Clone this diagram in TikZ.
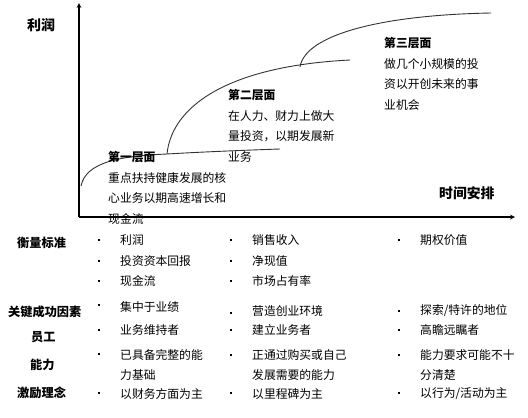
\documentclass[tikz,border=0pt]{standalone}
\usepackage{fontspec}
\setmainfont{Noto Sans CJK SC}
\begin{document}
\begin{tikzpicture}[x=1pt, y=-1pt, >=stealth,
    txt/.style={anchor=west, inner sep=0pt, font=\fontsize{11.8}{14}\selectfont},
    blk/.style={anchor=north west, inner sep=0pt, align=left, font=\fontsize{11.8}{20.4}\selectfont},
    hd/.style={anchor=west, inner sep=0pt, font=\fontsize{12.2}{14}\selectfont\bfseries},
    curve/.style={line width=0.9pt, black!80}]
\useasboundingbox (0,0) rectangle (528,418);
% axes
\coordinate (O) at (79,217);
\coordinate (ytop) at (79,3);
\coordinate (xend) at (515,217);
\draw[->, line width=1.2pt] (O) -- (ytop);
\draw[->, line width=1.2pt] (O) -- (xend);
\node[hd, font=\fontsize{14}{16}\selectfont\bfseries] (profit) at (27,25) {利润};
\node[hd, font=\fontsize{13.8}{16}\selectfont\bfseries] (time) at (439,193) {时间安排};
% curves
\coordinate (s1) at (81,186);
\coordinate (s2) at (167,154);
\coordinate (e1) at (280,149);
\coordinate (s3) at (300,67);
\coordinate (e2) at (350,60);
\coordinate (e3) at (491,13);
\draw[curve] (s1) .. controls (86,162) and (120,156) .. (s2) .. controls (200,152) and (250,150) .. (e1);
\draw[curve] (s2) .. controls (172,105) and (230,66) .. (e2);
\draw[curve] (s3) .. controls (305,35) and (380,15) .. (e3);
\node[blk] (lvl1) at (108,151.5) {\textbf{第一层面}\\重点扶持健康发展的核\\心业务以期高速增长和\\现金流};
\node[blk] (lvl2) at (228,89.5) {\textbf{第二层面}\\在人力、财力上做大\\量投资，以期发展新\\业务};
\node[blk] (lvl3) at (384,37.5) {\textbf{第三层面}\\做几个小规模的投\\资以开创未来的事\\业机会};
% table
\node[hd] (measure) at (17,243) {衡量标准};
\node[hd] (key) at (8,312) {关键成功因素};
\node[hd] (staff) at (31,337) {员工};
\node[hd] (ability) at (30,365) {能力};
\node[hd] (reward) at (17,393) {激励理念};
\foreach \x/\y in {99/240, 99/261, 99/281, 99/305, 99/330, 99/354, 99/393,
    231/240, 231/261, 231/281, 231/313, 231/330, 231/355, 231/393,
    399/240, 399/311, 399/330, 399/355, 399/393}
  \fill (\x-1.2,\y-1.2) rectangle (\x+1.2,\y+1.2);
\node[txt] (a1) at (120,240) {利润};
\node[txt] (a2) at (120,261) {投资资本回报};
\node[txt] (a3) at (120,281) {现金流};
\node[txt] (a4) at (120,307) {集中于业绩};
\node[txt] (a5) at (120,330) {业务维持者};
\node[txt] (a6) at (120,355) {已具备完整的能};
\node[txt] (a7) at (120,375) {力基础};
\node[txt] (a8) at (120,394) {以财务方面为主};
\node[txt] (b1) at (252,240) {销售收入};
\node[txt] (b2) at (252,261) {净现值};
\node[txt] (b3) at (252,281) {市场占有率};
\node[txt] (b4) at (252,311) {营造创业环境};
\node[txt] (b5) at (252,330) {建立业务者};
\node[txt] (b6) at (252,355) {正通过购买或自己};
\node[txt] (b7) at (252,375) {发展需要的能力};
\node[txt] (b8) at (252,394) {以里程碑为主};
\node[txt] (c1) at (420,240) {期权价值};
\node[txt] (c4) at (420,311) {探索/特许的地位};
\node[txt] (c5) at (420,330) {高瞻远瞩者};
\node[txt] (c6) at (420,355) {能力要求可能不十};
\node[txt] (c7) at (420,375) {分清楚};
\node[txt] (c8) at (420,394) {以行为/活动为主};
\end{tikzpicture}
\end{document}
